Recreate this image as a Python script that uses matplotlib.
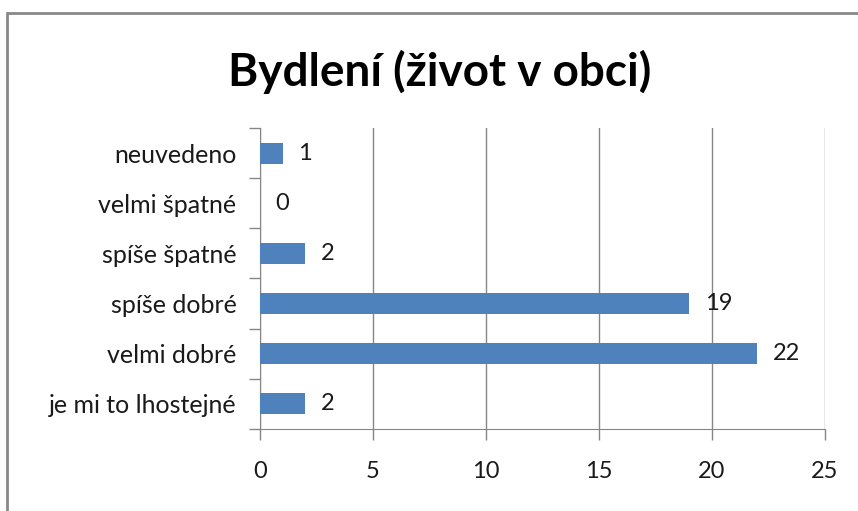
import matplotlib
matplotlib.use("Agg")
import matplotlib.pyplot as plt
from matplotlib.patches import Rectangle

categories = ["je mi to lhostejné", "velmi dobré", "spíše dobré",
              "spíše špatné", "velmi špatné", "neuvedeno"]
values = [2, 22, 19, 2, 0, 1]
xticks = [0, 5, 10, 15, 20, 25]
title = "Bydlení (život v obci)"

plt.rcParams["font.family"] = ["Lato", "DejaVu Sans"]
GRAY = "#868686"
TXT = "#1a1a1a"

fig = plt.figure(figsize=(8.58, 5.11), dpi=100)
ax = fig.add_axes([260 / 858, 1 - 429 / 511, 565 / 858, 301 / 511])

ypos = list(range(len(categories)))
ax.barh(ypos, values, height=0.42, color="#4F81BD", zorder=3)
for y, v in zip(ypos, values):
    ax.annotate(str(v), (v, y), xytext=(11, 0), textcoords="offset points",
                ha="left", va="center", fontsize=17, color=TXT)

ax.set_xlim(0, 25)
ax.set_ylim(-0.5, len(categories) - 0.5)
ax.set_xticks(xticks)
ax.set_xticklabels([str(t) for t in xticks], fontsize=17, color=TXT)
ax.set_yticks(ypos)
ax.set_yticklabels(categories, fontsize=18, color=TXT)
ax.set_yticks([y - 0.5 for y in ypos] + [len(categories) - 0.5], minor=True)
ax.tick_params(axis="y", which="major", length=0, pad=17)
ax.tick_params(axis="y", which="minor", length=8, color=GRAY, width=1)
ax.tick_params(axis="x", length=8, color=GRAY, width=1, pad=15)
ax.grid(axis="x", color=GRAY, lw=1, zorder=0)
for s in ("top", "right"):
    ax.spines[s].set_visible(False)
for s in ("left", "bottom"):
    ax.spines[s].set_color(GRAY)

fig.text(440 / 858, 1 - 72 / 511, title, ha="center", va="center",
         fontsize=33, fontweight="bold")
fig.add_artist(Rectangle((7 / 858, -0.1), 1.2, 1 - 13 / 511 + 0.1,
                         transform=fig.transFigure, fill=False,
                         edgecolor="#898989", lw=2))

fig.savefig("out.png", dpi=100)
